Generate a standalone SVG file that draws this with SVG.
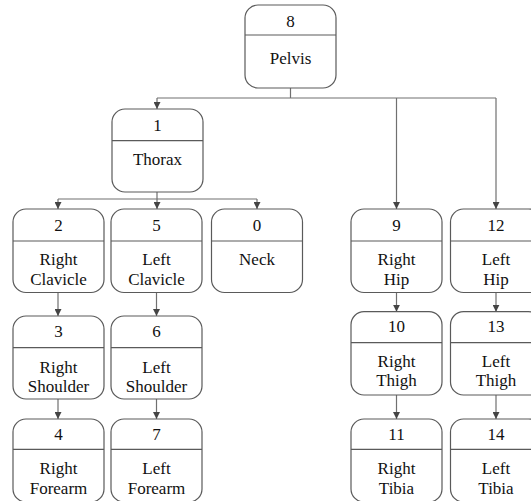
<svg xmlns="http://www.w3.org/2000/svg" width="531" height="501" viewBox="0 0 531 501">
<defs>
<style>
.box{fill:#fff;stroke:#5a5a5a;stroke-width:1.2}
.div{stroke:#5a5a5a;stroke-width:1.2}
.edge{fill:none;stroke:#707070;stroke-width:1.2}
.t{font-family:"Liberation Serif","DejaVu Serif",serif;font-size:17px;fill:#111;text-anchor:middle}
</style>
<marker id="ah" viewBox="0 0 10 10" refX="10" refY="5" markerWidth="7" markerHeight="7" markerUnits="userSpaceOnUse" orient="auto">
<path d="M0,0 L10,5 L0,10 Z" fill="#444"/>
</marker>
</defs>
<rect width="531" height="501" fill="#fff"/>
<g id="connectors">
<path class="edge" d="M290.5,88 V98 M157,98 H496"/>
<path class="edge" d="M157,98 V109" marker-end="url(#ah)"/>
<path class="edge" d="M396.5,98 V209" marker-end="url(#ah)"/>
<path class="edge" d="M496,98 V209" marker-end="url(#ah)"/>
<path class="edge" d="M157,192 V199 M58,199 H257"/>
<path class="edge" d="M58,199 V209" marker-end="url(#ah)"/>
<path class="edge" d="M157,199 V209" marker-end="url(#ah)"/>
<path class="edge" d="M257,199 V209" marker-end="url(#ah)"/>
<path class="edge" d="M58,292.5 V316" marker-end="url(#ah)"/>
<path class="edge" d="M156.5,292.5 V316" marker-end="url(#ah)"/>
<path class="edge" d="M58,399 V419" marker-end="url(#ah)"/>
<path class="edge" d="M156.5,399 V419" marker-end="url(#ah)"/>
<path class="edge" d="M396.5,292.5 V311.7" marker-end="url(#ah)"/>
<path class="edge" d="M496,292.5 V311.7" marker-end="url(#ah)"/>
<path class="edge" d="M396.5,395 V419" marker-end="url(#ah)"/>
<path class="edge" d="M496,395 V419" marker-end="url(#ah)"/>
</g>
<g id="n8">
<rect class="box" x="245" y="5" width="91" height="83" rx="13"/>
<line class="div" x1="245" y1="35" x2="336" y2="35"/>
<text class="t" x="290.5" y="26.5">8</text>
<text class="t" x="290.5" y="63.5">Pelvis</text>
</g>
<g id="n1">
<rect class="box" x="112" y="109" width="91" height="83" rx="13"/>
<line class="div" x1="112" y1="140.7" x2="203" y2="140.7"/>
<text class="t" x="157.5" y="130.7">1</text>
<text class="t" x="157.5" y="165">Thorax</text>
</g>
<g id="n2">
<rect class="box" x="13" y="209" width="91" height="83.5" rx="13"/>
<line class="div" x1="13" y1="241" x2="104" y2="241"/>
<text class="t" x="58.5" y="230.7">2</text>
<text class="t" x="58.5" y="265">Right</text>
<text class="t" x="58.5" y="285">Clavicle</text>
</g>
<g id="n5">
<rect class="box" x="111" y="209" width="91" height="83.5" rx="13"/>
<line class="div" x1="111" y1="241" x2="202" y2="241"/>
<text class="t" x="156.5" y="230.7">5</text>
<text class="t" x="156.5" y="265">Left</text>
<text class="t" x="156.5" y="285">Clavicle</text>
</g>
<g id="n0">
<rect class="box" x="211.5" y="209" width="91" height="83.5" rx="13"/>
<line class="div" x1="211.5" y1="241" x2="302.5" y2="241"/>
<text class="t" x="257" y="230.7">0</text>
<text class="t" x="257" y="265">Neck</text>
</g>
<g id="n3">
<rect class="box" x="13" y="316" width="91" height="83" rx="13"/>
<line class="div" x1="13" y1="347.7" x2="104" y2="347.7"/>
<text class="t" x="58.5" y="337.3">3</text>
<text class="t" x="58.5" y="372.5">Right</text>
<text class="t" x="58.5" y="392">Shoulder</text>
</g>
<g id="n6">
<rect class="box" x="111" y="316" width="91" height="83" rx="13"/>
<line class="div" x1="111" y1="347.7" x2="202" y2="347.7"/>
<text class="t" x="156.5" y="337.3">6</text>
<text class="t" x="156.5" y="372.5">Left</text>
<text class="t" x="156.5" y="392">Shoulder</text>
</g>
<g id="n4">
<rect class="box" x="13" y="419" width="91" height="83" rx="13"/>
<line class="div" x1="13" y1="449.3" x2="104" y2="449.3"/>
<text class="t" x="58.5" y="439.5">4</text>
<text class="t" x="58.5" y="474">Right</text>
<text class="t" x="58.5" y="493.5">Forearm</text>
</g>
<g id="n7">
<rect class="box" x="111" y="419" width="91" height="83" rx="13"/>
<line class="div" x1="111" y1="449.3" x2="202" y2="449.3"/>
<text class="t" x="156.5" y="439.5">7</text>
<text class="t" x="156.5" y="474">Left</text>
<text class="t" x="156.5" y="493.5">Forearm</text>
</g>
<g id="n9">
<rect class="box" x="351" y="209" width="91" height="83.5" rx="13"/>
<line class="div" x1="351" y1="241" x2="442" y2="241"/>
<text class="t" x="396.5" y="230.7">9</text>
<text class="t" x="396.5" y="265">Right</text>
<text class="t" x="396.5" y="285">Hip</text>
</g>
<g id="n12">
<rect class="box" x="450.5" y="209" width="91" height="83.5" rx="13"/>
<line class="div" x1="450.5" y1="241" x2="541.5" y2="241"/>
<text class="t" x="496" y="230.7">12</text>
<text class="t" x="496" y="265">Left</text>
<text class="t" x="496" y="285">Hip</text>
</g>
<g id="n10">
<rect class="box" x="351" y="311.7" width="91" height="83.3" rx="13"/>
<line class="div" x1="351" y1="342.7" x2="442" y2="342.7"/>
<text class="t" x="396.5" y="331.7">10</text>
<text class="t" x="396.5" y="366.7">Right</text>
<text class="t" x="396.5" y="386">Thigh</text>
</g>
<g id="n13">
<rect class="box" x="450.5" y="311.7" width="91" height="83.3" rx="13"/>
<line class="div" x1="450.5" y1="342.7" x2="541.5" y2="342.7"/>
<text class="t" x="496" y="331.7">13</text>
<text class="t" x="496" y="366.7">Left</text>
<text class="t" x="496" y="386">Thigh</text>
</g>
<g id="n11">
<rect class="box" x="351" y="419" width="91" height="83" rx="13"/>
<line class="div" x1="351" y1="449.3" x2="442" y2="449.3"/>
<text class="t" x="396.5" y="440">11</text>
<text class="t" x="396.5" y="474">Right</text>
<text class="t" x="396.5" y="493.5">Tibia</text>
</g>
<g id="n14">
<rect class="box" x="450.5" y="419" width="91" height="83" rx="13"/>
<line class="div" x1="450.5" y1="449.3" x2="541.5" y2="449.3"/>
<text class="t" x="496" y="440">14</text>
<text class="t" x="496" y="474">Left</text>
<text class="t" x="496" y="493.5">Tibia</text>
</g>
</svg>
